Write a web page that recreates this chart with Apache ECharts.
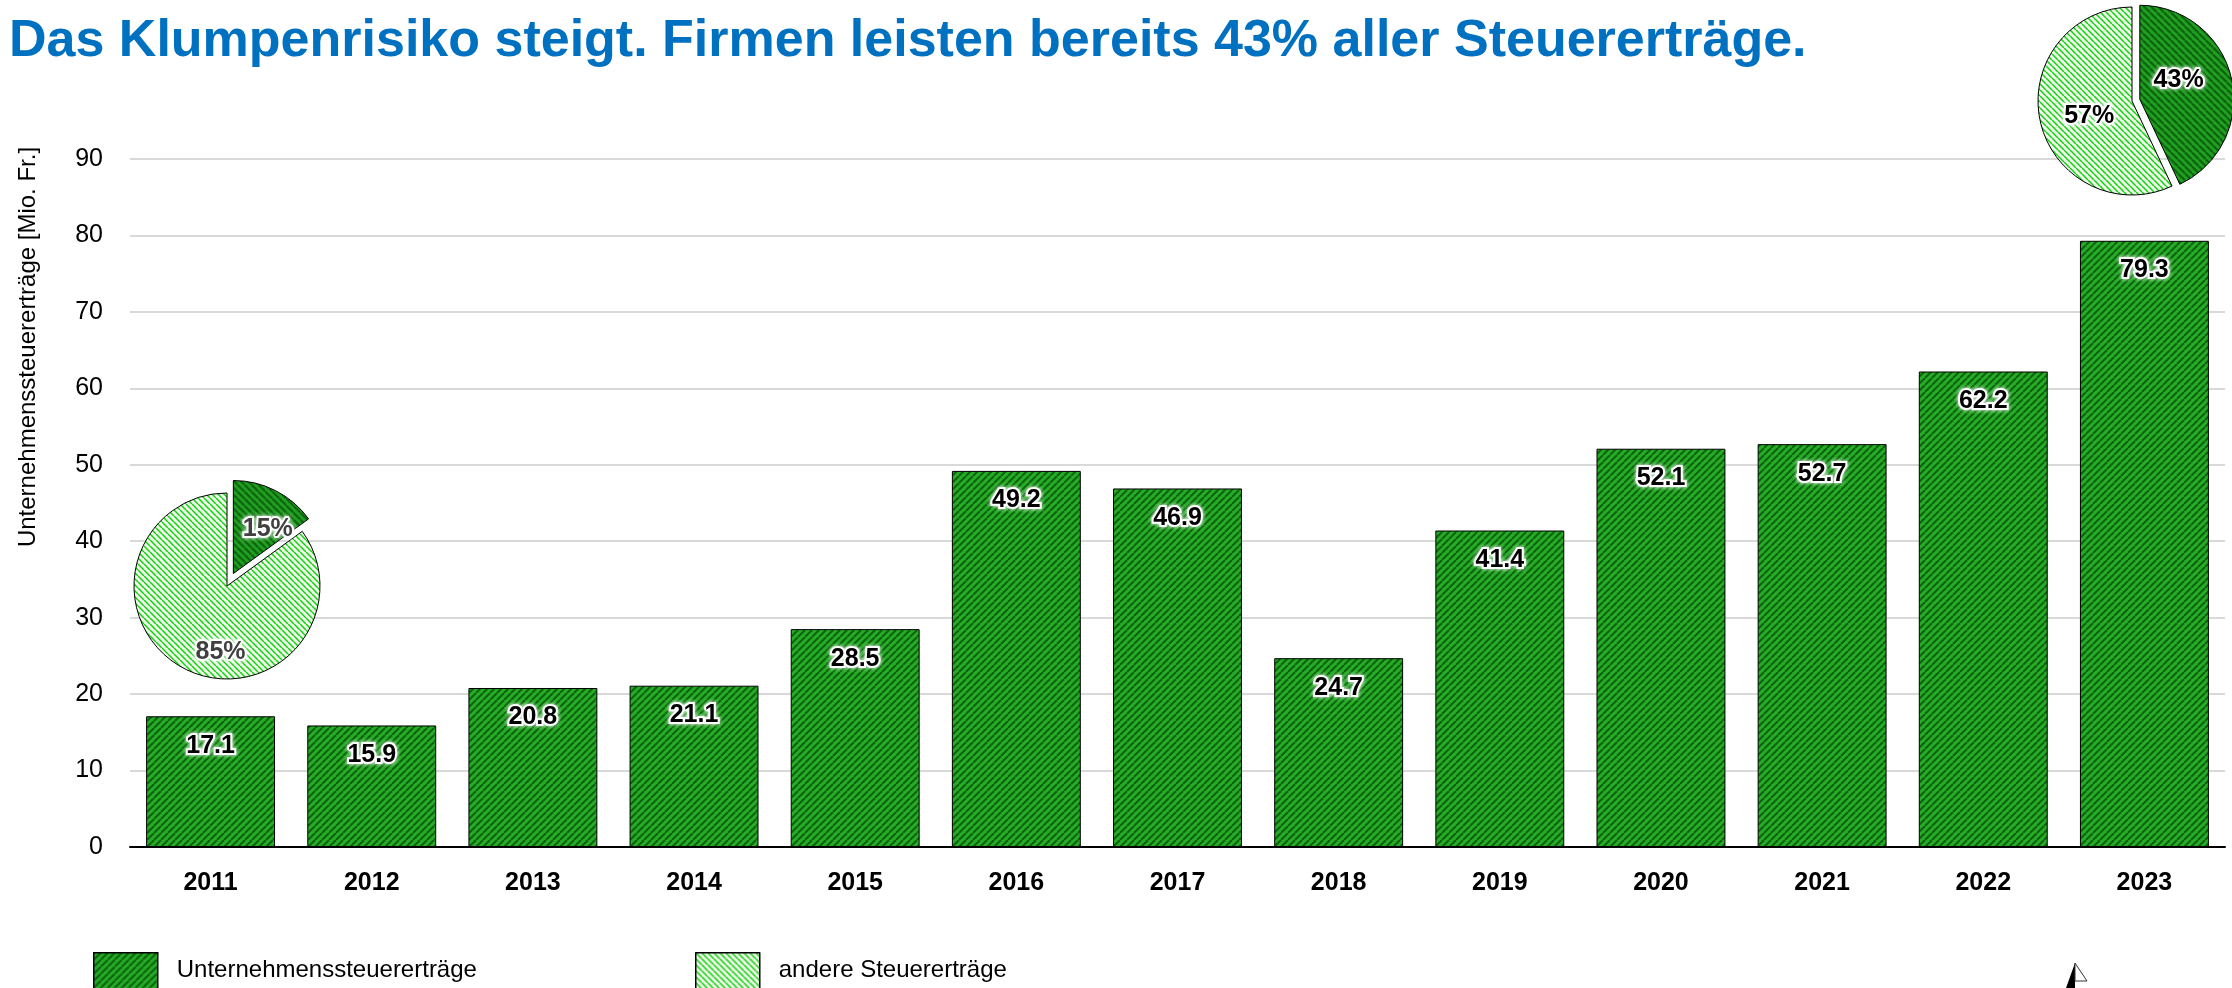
<!DOCTYPE html>
<html>
<head>
<meta charset="utf-8">
<script src="https://cdn.jsdelivr.net/npm/echarts@6/dist/echarts.min.js"></script>
<style>
  html, body { margin: 0; padding: 0; background: #fff; }
  #chart { width: 2232px; height: 988px; }
</style>
</head>
<body>
<div id="chart"></div>
<script>
// --- data ---
const years = ['2011', '2012', '2013', '2014', '2015', '2016', '2017', '2018', '2019', '2020', '2021', '2022', '2023'];
const firmTaxes = [17.1, 15.9, 20.8, 21.1, 28.5, 49.2, 46.9, 24.7, 41.4, 52.1, 52.7, 62.2, 79.3];
const shareNames = ['Unternehmenssteuererträge', 'andere Steuererträge'];
const share2011 = [15, 85];
const share2023 = [43, 57];
const yTicks = { min: 0, max: 90, interval: 10 };

const font = "'Liberation Sans', Arial, sans-serif";

// diagonal hatch fills
function hatch(bg, fg, p, w, dir) {
    const c = document.createElement('canvas');
    c.width = p; c.height = p;
    const ctx = c.getContext('2d');
    ctx.fillStyle = bg;
    ctx.fillRect(0, 0, p, p);
    ctx.strokeStyle = fg;
    ctx.lineWidth = w;
    for (const k of [-p, 0, p]) {
        ctx.beginPath();
        if (dir > 0) { ctx.moveTo(k, p); ctx.lineTo(k + p, 0); }
        else { ctx.moveTo(k, 0); ctx.lineTo(k + p, p); }
        ctx.stroke();
    }
    return { image: c, repeat: 'repeat' };
}

const barFill = hatch('#26ac26', '#0d620d', 7, 2, 1);
const darkPieFill = hatch('#22a222', '#0b5c0b', 7, 2, -1);
const lightFill = hatch('#eef6e8', '#12d012', 6, 1.5, -1);

const glowLabel = {
    fontFamily: font,
    fontWeight: 'bold',
    fontSize: 25,
    color: '#000',
    textBorderColor: '#fff',
    textBorderWidth: 4,
    textShadowColor: 'rgba(255,255,255,0.9)',
    textShadowBlur: 4
};

// first slice is pulled out (selected), so its label offset goes in the select state too
function pieData(values, offsets) {
    return values.map((v, i) => ({
        name: shareNames[i],
        value: v,
        selected: i === 0,
        itemStyle: { color: i === 0 ? darkPieFill : lightFill },
        label: { offset: offsets[i] },
        select: { label: { offset: offsets[i] } }
    }));
}

const chart = echarts.init(document.getElementById('chart'));

chart.setOption({
    animation: false,
    title: {
        text: 'Das Klumpenrisiko steigt. Firmen leisten bereits 43% aller Steuererträge.',
        left: 4,
        top: 11,
        textStyle: {
            fontFamily: font,
            fontWeight: 'bold',
            fontSize: 52,
            color: '#0070C0'
        }
    },
    legend: [
        {
            left: 88, top: 947,
            itemWidth: 64, itemHeight: 36,
            icon: 'rect',
            data: [{ name: shareNames[0], itemStyle: { color: barFill, borderColor: '#000', borderWidth: 1.5 } }],
            textStyle: { fontFamily: font, fontSize: 24, color: '#000', padding: [0, 0, 0, 14] },
            selectedMode: false
        },
        {
            left: 690, top: 947,
            itemWidth: 64, itemHeight: 36,
            icon: 'rect',
            data: [{ name: shareNames[1], itemStyle: { color: lightFill, borderColor: '#000', borderWidth: 1.5 } }],
            textStyle: { fontFamily: font, fontSize: 24, color: '#000', padding: [0, 0, 0, 14] },
            selectedMode: false
        }
    ],
    grid: { left: 130, right: 7, top: 159, bottom: 141 },
    xAxis: {
        type: 'category',
        data: years,
        axisTick: { show: false },
        axisLine: { lineStyle: { color: '#000', width: 2 } },
        axisLabel: { fontFamily: font, fontWeight: 'bold', fontSize: 25, color: '#000', margin: 24 }
    },
    yAxis: {
        type: 'value',
        min: yTicks.min,
        max: yTicks.max,
        interval: yTicks.interval,
        name: 'Unternehmenssteuererträge [Mio. Fr.]',
        nameLocation: 'middle',
        nameRotate: 90,
        nameGap: 90,
        nameTextStyle: { fontFamily: font, fontSize: 24, color: '#000', padding: [0, 0, 0, 312] },
        axisLine: { show: false },
        axisTick: { show: false },
        splitLine: { lineStyle: { color: '#d9d9d9', width: 2 } },
        axisLabel: { fontFamily: font, fontSize: 25, color: '#000', margin: 27 }
    },
    series: [
        {
            name: shareNames[0],
            type: 'bar',
            data: firmTaxes,
            barWidth: '80%',
            itemStyle: { color: barFill, borderColor: '#000', borderWidth: 1 },
            label: Object.assign({ show: true, position: 'insideTop', distance: 17 }, glowLabel)
        },
        {
            type: 'pie',
            center: [227, 586],
            radius: 93,
            startAngle: 90,
            clockwise: true,
            selectedMode: 'single',
            selectedOffset: 14,
            itemStyle: { borderColor: '#000', borderWidth: 1 },
            label: Object.assign({ show: true, position: 'inside', formatter: '{c}%' }, glowLabel, { color: '#404040' }),
            labelLine: { show: false },
            emphasis: { disabled: true },
            data: pieData(share2011, [[12, 0], [16, 22]]),
            z: 5
        },
        {
            type: 'pie',
            center: [2132, 101],
            radius: 94,
            startAngle: 90,
            clockwise: true,
            selectedMode: 'single',
            selectedOffset: 8,
            itemStyle: { borderColor: '#000', borderWidth: 1 },
            label: Object.assign({ show: true, position: 'inside', formatter: '{c}%' }, glowLabel),
            labelLine: { show: false },
            emphasis: { disabled: true },
            data: pieData(share2023, [[-10, -8], [6, 4]]),
            z: 5
        }
    ],
    graphic: [
        {
            type: 'polygon',
            shape: { points: [[2075, 963], [2066, 988], [2075, 988]] },
            style: { fill: '#000' }
        },
        {
            type: 'polygon',
            shape: { points: [[2075, 963], [2087, 981], [2075, 981]] },
            style: { fill: '#fff', stroke: '#333', lineWidth: 1 }
        }
    ]
});

window.addEventListener('resize', () => {
    chart.resize();
});
</script>
</body>
</html>
